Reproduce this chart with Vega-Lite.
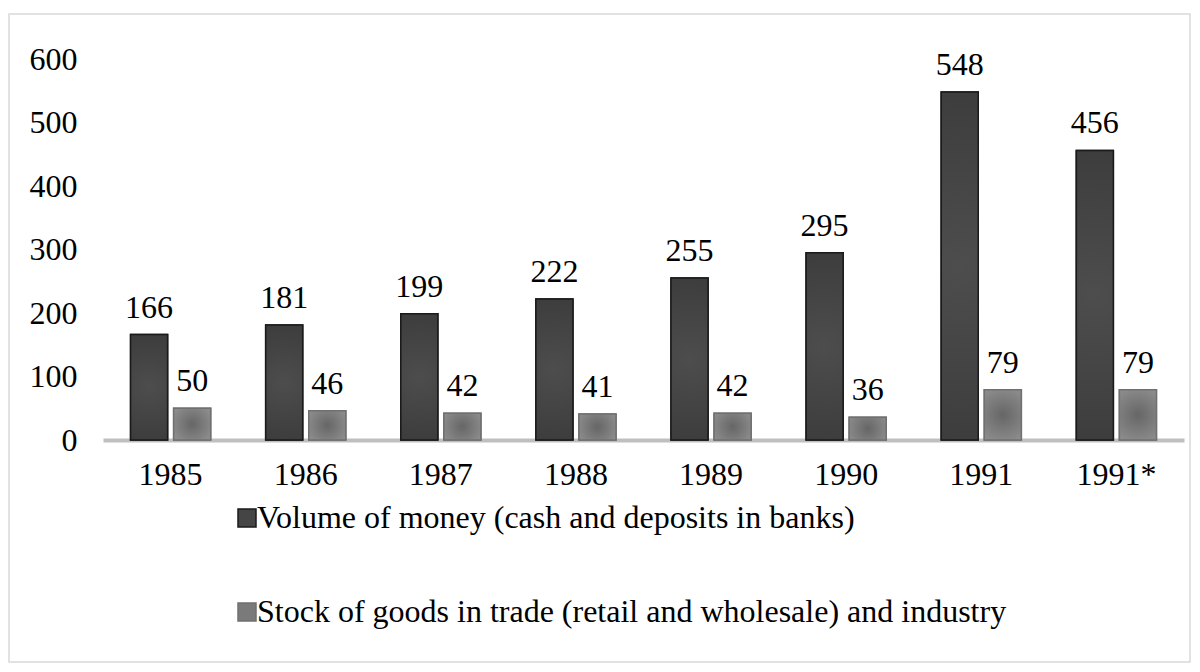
{
  "$schema": "https://vega.github.io/schema/vega-lite/v6.json",
  "width": 1181,
  "height": 648,
  "autosize": {"type": "none"},
  "padding": {"left": 9, "top": 14, "right": 10, "bottom": 10},
  "background": "white",
  "config": {
    "view": {"stroke": "#d9d9d9", "strokeWidth": 1.5},
    "font": "Liberation Serif"
  },
  "data": {
    "values": [
      {"year": "1985", "series": "Volume of money (cash and deposits in banks)", "value": 166},
      {"year": "1985", "series": "Stock of goods in trade (retail and wholesale) and industry", "value": 50},
      {"year": "1986", "series": "Volume of money (cash and deposits in banks)", "value": 181},
      {"year": "1986", "series": "Stock of goods in trade (retail and wholesale) and industry", "value": 46},
      {"year": "1987", "series": "Volume of money (cash and deposits in banks)", "value": 199},
      {"year": "1987", "series": "Stock of goods in trade (retail and wholesale) and industry", "value": 42},
      {"year": "1988", "series": "Volume of money (cash and deposits in banks)", "value": 222},
      {"year": "1988", "series": "Stock of goods in trade (retail and wholesale) and industry", "value": 41},
      {"year": "1989", "series": "Volume of money (cash and deposits in banks)", "value": 255},
      {"year": "1989", "series": "Stock of goods in trade (retail and wholesale) and industry", "value": 42},
      {"year": "1990", "series": "Volume of money (cash and deposits in banks)", "value": 295},
      {"year": "1990", "series": "Stock of goods in trade (retail and wholesale) and industry", "value": 36},
      {"year": "1991", "series": "Volume of money (cash and deposits in banks)", "value": 548},
      {"year": "1991", "series": "Stock of goods in trade (retail and wholesale) and industry", "value": 79},
      {"year": "1991*", "series": "Volume of money (cash and deposits in banks)", "value": 456},
      {"year": "1991*", "series": "Stock of goods in trade (retail and wholesale) and industry", "value": 79}
    ]
  },
  "encoding": {
    "x": {
      "field": "year", "type": "nominal", "sort": null,
      "scale": {"range": [94, 1175], "paddingInner": 0.407, "paddingOuter": 0.204},
      "axis": {
        "title": null, "orient": "bottom", "offset": -222, "labelAngle": 0,
        "domainColor": "#bfbfbf", "domainWidth": 4, "ticks": false,
        "labelFont": "Liberation Serif", "labelFontSize": 32, "labelColor": "#000000",
        "labelPadding": 19
      }
    },
    "xOffset": {
      "field": "series", "type": "nominal", "sort": null,
      "scale": {"paddingInner": 0.14, "paddingOuter": 0}
    },
    "y": {
      "field": "value", "type": "quantitative",
      "scale": {"domain": [0, 600], "range": [426, 45], "nice": false},
      "axis": {
        "title": null, "values": [0, 100, 200, 300, 400, 500, 600],
        "grid": false, "domain": false, "ticks": false, "offset": -68, "labelPadding": 0,
        "labelFont": "Liberation Serif", "labelFontSize": 32, "labelColor": "#000000"
      }
    }
  },
  "layer": [
    {
      "mark": {"type": "bar", "strokeWidth": 1.5},
      "encoding": {
        "fill": {
          "field": "series", "type": "nominal", "sort": null,
          "scale": {"range": ["#454545", "#7a7a7a"]},
          "legend": {
            "title": null, "orient": "none", "legendX": 222, "legendY": 488,
            "direction": "vertical", "symbolType": "square", "symbolSize": 324,
            "symbolStrokeWidth": 1.5, "labelFont": "Liberation Serif", "labelFontSize": 32,
            "labelColor": "#000000", "rowPadding": 62, "labelOffset": -6, "padding": 0,
            "labelLimit": 1000
          }
        },
        "stroke": {
          "field": "series", "type": "nominal", "sort": null,
          "scale": {"range": ["#1a1a1a", "#707070"]},
          "legend": null
        }
      }
    },
    {
      "transform": [{"filter": "datum.series === 'Volume of money (cash and deposits in banks)'"}],
      "mark": {"type": "bar", "strokeWidth": 1.5, "stroke": "#1a1a1a",
        "fill": {"gradient": "radial", "x1": 0.5, "y1": 0.5, "r1": 0, "x2": 0.5, "y2": 0.5, "r2": 0.6,
          "stops": [{"offset": 0, "color": "#4d4d4d"}, {"offset": 1, "color": "#3a3a3a"}]}},
      "encoding": {}
    },
    {
      "transform": [{"filter": "datum.series === 'Stock of goods in trade (retail and wholesale) and industry'"}],
      "mark": {"type": "bar", "strokeWidth": 1.5, "stroke": "#707070",
        "fill": {"gradient": "radial", "x1": 0.5, "y1": 0.5, "r1": 0, "x2": 0.5, "y2": 0.5, "r2": 0.6,
          "stops": [{"offset": 0, "color": "#666666"}, {"offset": 1, "color": "#8e8e8e"}]}},
      "encoding": {}
    },
    {
      "mark": {"type": "text", "baseline": "alphabetic", "dy": -17, "fontSize": 32, "font": "Liberation Serif", "color": "#000000"},
      "encoding": {"text": {"field": "value", "type": "quantitative"}}
    }
  ]
}
